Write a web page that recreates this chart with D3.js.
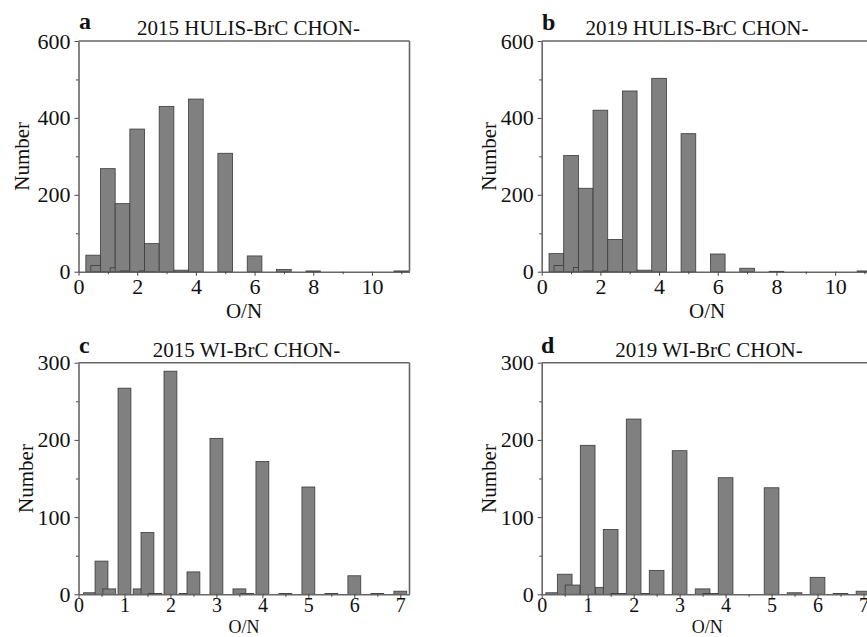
<!DOCTYPE html>
<html>
<head>
<meta charset="utf-8">
<script src="https://cdn.jsdelivr.net/npm/d3@7"></script>
<style>
  html, body { margin: 0; padding: 0; background: #fff; overflow: hidden; }
  svg { display: block; }
  text { font-family: "Liberation Serif", "DejaVu Serif", serif; fill: #111; }
</style>
</head>
<body>
<svg id="chart" width="867" height="637"></svg>
<script>
// ---- Data ----
// O/N values (bar centres) for HULIS panels (a, b)
const onHulis = [0.5, 0.67, 1, 1.33, 1.5, 1.67, 2, 2.33, 2.5, 3, 3.5, 4, 5, 6, 7, 8, 11];
const countA2015Hulis = [43, 16, 268, 10, 177, 2, 371, 2, 73, 430, 4, 449, 308, 41, 6, 2, 2];
const countB2019Hulis = [47, 16, 302, 11, 217, 2, 420, 2, 84, 470, 4, 503, 359, 46, 9, 1, 2];

// O/N values for WI panels (c, d)
const onWI = [0.25, 0.5, 0.67, 1, 1.33, 1.5, 1.67, 2, 2.33, 2.5, 3, 3.5, 3.67, 4, 4.5, 5, 5.5, 6, 6.5, 7];
const countC2015WI = [2, 43, 7, 267, 7, 80, 1, 289, 1, 29, 202, 7, 1, 172, 1, 139, 1, 24, 1, 4];
const countD2019WI = [2, 26, 12, 193, 9, 84, 1, 227, 1, 31, 186, 7, 1, 151, 0, 138, 2, 22, 1, 4];

// Tick values
const xTicksHulis = [0, 2, 4, 6, 8, 10];
const xMinorHulis = [1, 3, 5, 7, 9, 11];
const yTicksHulis = [0, 200, 400, 600];
const yMinorHulis = [100, 300, 500];
const xTicksWI = [0, 1, 2, 3, 4, 5, 6, 7];
const xMinorWI = [0.5, 1.5, 2.5, 3.5, 4.5, 5.5, 6.5];
const yTicksWI = [0, 100, 200, 300];
const yMinorWI = [50, 150, 250];

const titles = ["2015 HULIS-BrC CHON-", "2019 HULIS-BrC CHON-", "2015 WI-BrC CHON-", "2019 WI-BrC CHON-"];
const letters = ["a", "b", "c", "d"];
const xLabel = "O/N";
const yLabel = "Number";

// ---- Layout ----
const panels = [
  { on: onHulis, n: countA2015Hulis, xMax: 11.28, yMax: 600, xt: xTicksHulis, xm: xMinorHulis, yt: yTicksHulis, ym: yMinorHulis, bw: 0.5,
    left: 78.5, top: 41, w: 331, h: 230.7, titleX: 248.5, titleY: 35, letterX: 79, letterY: 29, ylabX: 22,
    xlabY: 318, xlabSize: 21, xTickSize: 22, xPad: 3 },
  { on: onHulis, n: countB2019Hulis, xMax: 11.28, yMax: 600, xt: xTicksHulis, xm: xMinorHulis, yt: yTicksHulis, ym: yMinorHulis, bw: 0.5,
    left: 541.7, top: 41, w: 331, h: 230.7, titleX: 697, titleY: 35, letterX: 542, letterY: 30, ylabX: 489,
    xlabY: 318, xlabSize: 21, xTickSize: 22, xPad: 3 },
  { on: onWI, n: countC2015WI, xMax: 7.2, yMax: 300, xt: xTicksWI, xm: xMinorWI, yt: yTicksWI, ym: yMinorWI, bw: 0.28,
    left: 78.5, top: 362.7, w: 331, h: 231.6, titleX: 246.5, titleY: 357, letterX: 79, letterY: 353, ylabX: 26,
    xlabY: 633, xlabSize: 18, xTickSize: 20, xPad: 0 },
  { on: onWI, n: countD2019WI, xMax: 7.2, yMax: 300, xt: xTicksWI, xm: xMinorWI, yt: yTicksWI, ym: yMinorWI, bw: 0.32,
    left: 541.7, top: 362.7, w: 331, h: 231.6, titleX: 709, titleY: 357, letterX: 541, letterY: 353, ylabX: 489,
    xlabY: 633, xlabSize: 18, xTickSize: 20, xPad: 0 }
];

const svg = d3.select("#chart");
const axisColor = "#666";

panels.forEach((p, i) => {
  const x = d3.scaleLinear().domain([0, p.xMax]).range([p.left, p.left + p.w]);
  const y = d3.scaleLinear().domain([0, p.yMax]).range([p.top + p.h, p.top]);
  const g = svg.append("g");

  // bars (drawn in order so later bars overlap earlier ones)
  const data = p.on.map((v, k) => ({ v, c: p.n[k] })).filter(d => d.c > 0);
  g.selectAll("rect.bar").data(data).enter().append("rect")
    .attr("class", "bar")
    .attr("x", d => x(d.v - p.bw / 2))
    .attr("width", d => x(d.v + p.bw / 2) - x(d.v - p.bw / 2))
    .attr("y", d => y(d.c))
    .attr("height", d => y(0) - y(d.c))
    .attr("fill", "#808080")
    .attr("stroke", "#3a3a3a")
    .attr("stroke-width", 0.8);

  // frame: top and right
  g.append("line").attr("x1", x(0)).attr("x2", x(p.xMax)).attr("y1", y(p.yMax)).attr("y2", y(p.yMax))
    .attr("stroke", axisColor).attr("stroke-width", 1.6);
  g.append("line").attr("x1", x(p.xMax)).attr("x2", x(p.xMax)).attr("y1", y(p.yMax)).attr("y2", y(0))
    .attr("stroke", axisColor).attr("stroke-width", 1.6);

  // x axis
  const xa = g.append("g").attr("transform", `translate(0,${y(0)})`)
    .call(d3.axisBottom(x).tickValues(p.xt).tickSize(4).tickSizeOuter(0).tickPadding(p.xPad).tickFormat(d3.format("d")));
  g.append("g").attr("transform", `translate(0,${y(0)})`)
    .call(d3.axisBottom(x).tickValues(p.xm).tickSize(2.5).tickSizeOuter(0).tickFormat(""))
    .select(".domain").remove();
  // y axis
  const ya = g.append("g").attr("transform", `translate(${x(0)},0)`)
    .call(d3.axisLeft(y).tickValues(p.yt).tickSize(4).tickSizeOuter(0).tickPadding(4).tickFormat(d3.format("d")));
  g.append("g").attr("transform", `translate(${x(0)},0)`)
    .call(d3.axisLeft(y).tickValues(p.ym).tickSize(2.5).tickSizeOuter(0).tickFormat(""))
    .select(".domain").remove();

  g.selectAll(".domain").attr("stroke", axisColor).attr("stroke-width", 1.6);
  g.selectAll(".tick line").attr("stroke", "#444").attr("stroke-width", 1);
  ya.selectAll(".tick text").style("font-family", "'Liberation Serif', serif").style("font-size", "22px").attr("fill", "#111");
  xa.selectAll(".tick text").style("font-family", "'Liberation Serif', serif").style("font-size", p.xTickSize + "px").attr("fill", "#111");

  // titles
  g.append("text").attr("x", p.titleX).attr("y", p.titleY).attr("text-anchor", "middle")
    .style("font-size", "21px").text(titles[i]);
  g.append("text").attr("x", p.letterX).attr("y", p.letterY)
    .style("font-size", "24px").style("font-weight", "bold").text(letters[i]);

  // axis labels
  g.append("text").attr("x", p.left + p.w / 2).attr("y", p.xlabY).attr("text-anchor", "middle")
    .style("font-size", p.xlabSize + "px").text(xLabel);
  g.append("text")
    .attr("transform", `translate(${p.ylabX},${p.top + p.h / 2}) rotate(-90)`)
    .attr("text-anchor", "middle").attr("dominant-baseline", "central")
    .style("font-size", "21px").text(yLabel);
});
</script>
</body>
</html>
